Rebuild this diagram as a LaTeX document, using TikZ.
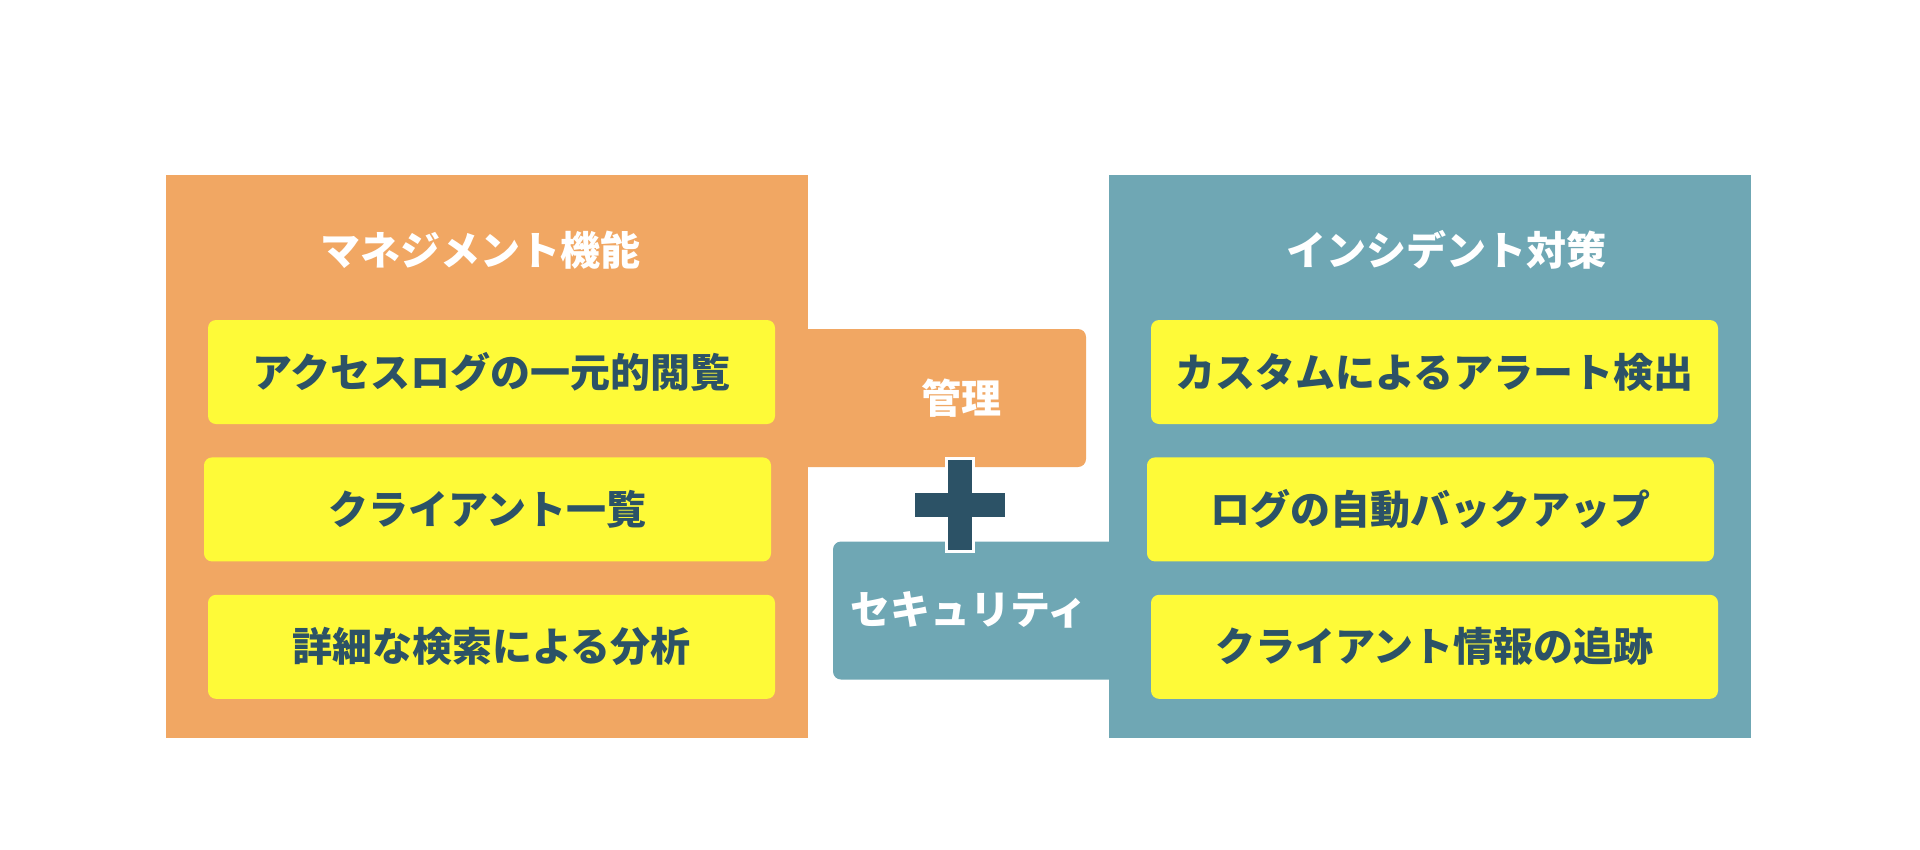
\documentclass[tikz,border=0pt]{standalone}
\usepackage{fontspec}
\newfontfamily\jpfont{Noto Sans CJK JP}
\usetikzlibrary{positioning}
\definecolor{mgmtorange}{HTML}{F1A763}
\definecolor{secteal}{HTML}{6FA7B4}
\definecolor{itemyellow}{HTML}{FEFA38}
\definecolor{navy}{HTML}{2C5266}

\begin{document}
\begin{tikzpicture}[
        x=1pt, y=-1pt,
        panel/.style={rectangle, inner sep=0pt, minimum width=642pt, minimum height=563pt},
        tab/.style={rectangle, rounded corners=8pt, inner sep=0pt, minimum width=326pt, minimum height=138pt},
        item/.style={rectangle, fill=itemyellow, rounded corners=8pt, inner sep=0pt, minimum width=567pt, minimum height=104pt, text=navy, font=\jpfont\bfseries\fontsize{40}{40}\selectfont},
        heading/.style={text=white, inner sep=0pt, font=\jpfont\bfseries\fontsize{40}{40}\selectfont},
        bar/.style={rectangle, fill=navy, inner sep=0pt}
    ]
        \useasboundingbox (0,0) rectangle (1920,849);

        % Tabs
        \node[tab, fill=mgmtorange] (kanritab) at (923,398) {};
        \node[tab, fill=secteal] (sectab) at (996,610.5) {};

        % Panels
        \node[panel, fill=mgmtorange] (mgmt) at (487,456.5) {};
        \node[panel, fill=secteal] (incident) at (1430,456.5) {};

        % Headings
        \node[heading] (mgmttitle) at (480,250) {マネジメント機能};
        \node[heading] (inctitle) at (1446,250) {インシデント対策};
        \node[heading] (kanri) at (961,398) {管理};
        \node[heading] (security) at (969,610) {セキュリティ};

        % Items
        \node[item] (access) at (491.5,372) {アクセスログの一元的閲覧};
        \node[item, below=33pt of access, xshift=-4pt] (clients) {クライアント一覧};
        \node[item, below=33pt of clients, xshift=4pt] (search) {詳細な検索による分析};
        \node[item] (alert) at (1434.5,372) {カスタムによるアラート検出};
        \node[item, below=33pt of alert, xshift=-4pt] (backup) {ログの自動バックアップ};
        \node[item, below=33pt of backup, xshift=4pt] (tracking) {クライアント情報の追跡};

        % Plus
        \node[bar, draw=white, line width=3pt, minimum width=27pt, minimum height=93pt] (plusv) at (960,505) {};
        \node[bar, minimum width=90pt, minimum height=24pt] (plush) at (960,505) {};
    \end{tikzpicture}
\end{document}
